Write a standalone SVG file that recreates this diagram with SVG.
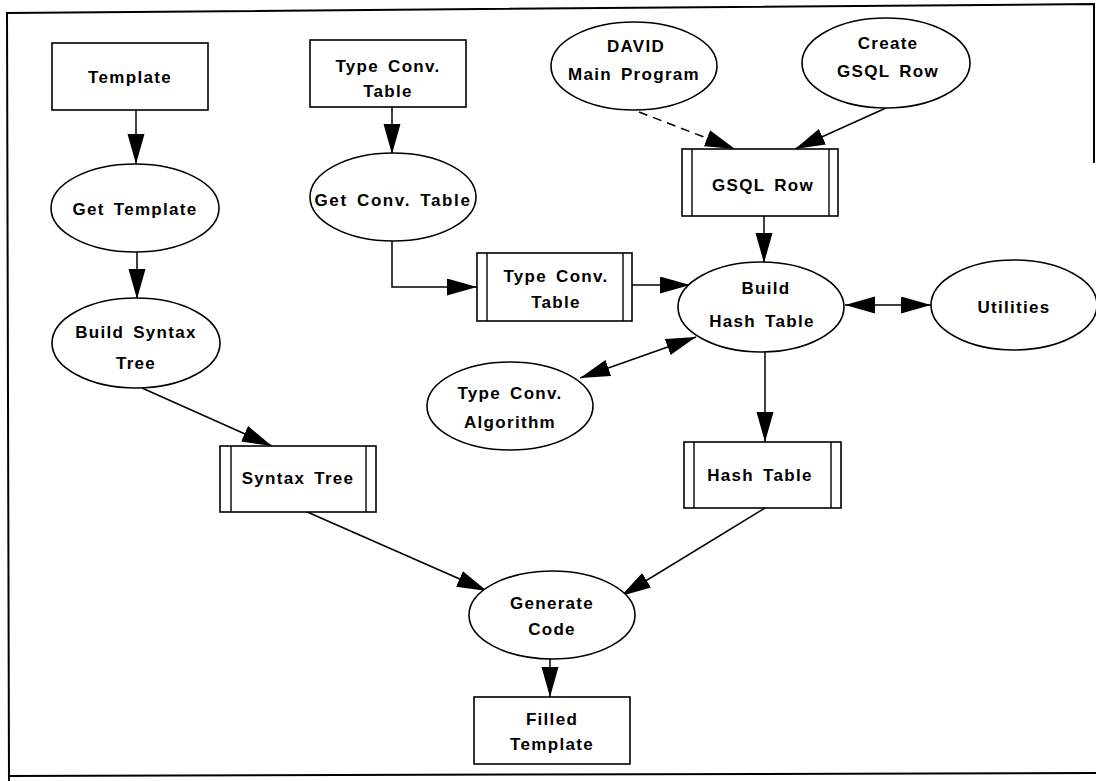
<svg xmlns="http://www.w3.org/2000/svg" width="1096" height="781" viewBox="0 0 1096 781">
<defs>
<marker id="ah" markerUnits="userSpaceOnUse" markerWidth="32" markerHeight="19" refX="30" refY="8.5" orient="auto-start-reverse">
<path d="M0,0 L30,8.5 L0,17 z" fill="#000"/>
</marker>
</defs>
<style>
.sh{fill:#fff;stroke:#000;stroke-width:1.6}
.in{stroke:#000;stroke-width:1.4;fill:none}
.t{font-family:"Liberation Sans",Arial,sans-serif;font-weight:bold;font-size:17px;letter-spacing:1.3px;word-spacing:3px;text-anchor:middle;dominant-baseline:central;fill:#000}
.c{stroke:#000;stroke-width:1.5;fill:none;marker-end:url(#ah)}
.d{marker-start:url(#ah)}
.fr{stroke:#000;stroke-width:2;fill:none}
</style>
<rect width="1096" height="781" fill="#fff"/>
<g id="frame">
<polyline class="fr" points="1094,163 1094,4 7,13 9,781"/>
<line class="fr" x1="9" y1="776" x2="1096" y2="773"/>
</g>
<g id="connectors">
<line class="c" x1="136" y1="110" x2="136" y2="164"/>
<line class="c" x1="137" y1="252" x2="137" y2="299"/>
<line class="c" x1="142" y1="388" x2="272" y2="446"/>
<line class="c" x1="392" y1="107" x2="392" y2="154"/>
<polyline class="c" points="392,241 392,287 477,287"/>
<line class="c" x1="632" y1="285" x2="690" y2="285"/>
<line class="c" x1="639" y1="112" x2="735" y2="149" stroke-dasharray="9,6"/>
<line class="c" x1="886" y1="108" x2="795" y2="149"/>
<line class="c" x1="764" y1="216" x2="764" y2="263"/>
<line class="c d" x1="845" y1="305" x2="931" y2="305"/>
<line class="c d" x1="696" y1="337" x2="580" y2="378"/>
<line class="c" x1="765" y1="352" x2="765" y2="442"/>
<line class="c" x1="305" y1="511" x2="487" y2="591"/>
<line class="c" x1="765" y1="508" x2="621" y2="596"/>
<line class="c" x1="550" y1="659" x2="550" y2="697"/>
</g>
<g id="template">
<rect class="sh" x="52" y="43" width="156" height="67"/>
<text class="t" x="130" y="77">Template</text>
</g>
<g id="get-template">
<ellipse class="sh" cx="135" cy="208" rx="84" ry="44"/>
<text class="t" x="135" y="209">Get Template</text>
</g>
<g id="build-syntax-tree">
<ellipse class="sh" cx="136" cy="343" rx="84" ry="45"/>
<text class="t" x="136" y="332">Build Syntax</text>
<text class="t" x="136" y="363">Tree</text>
</g>
<g id="syntax-tree">
<rect class="sh" x="220" y="446" width="156" height="66"/>
<line class="in" x1="231" y1="446" x2="231" y2="512"/>
<line class="in" x1="366" y1="446" x2="366" y2="512"/>
<text class="t" x="298" y="478">Syntax Tree</text>
</g>
<g id="type-conv-table-src">
<rect class="sh" x="310" y="40" width="156" height="67"/>
<text class="t" x="388" y="66">Type Conv.</text>
<text class="t" x="388" y="91">Table</text>
</g>
<g id="get-conv-table">
<ellipse class="sh" cx="393" cy="197" rx="83" ry="44"/>
<text class="t" x="393" y="200" style="letter-spacing:1.6px">Get Conv. Table</text>
</g>
<g id="type-conv-table-store">
<rect class="sh" x="477" y="253" width="155" height="68"/>
<line class="in" x1="487" y1="253" x2="487" y2="321"/>
<line class="in" x1="623" y1="253" x2="623" y2="321"/>
<text class="t" x="556" y="276">Type Conv.</text>
<text class="t" x="556" y="302">Table</text>
</g>
<g id="david">
<ellipse class="sh" cx="634" cy="66" rx="83" ry="44"/>
<text class="t" x="636" y="46">DAVID</text>
<text class="t" x="634" y="74">Main Program</text>
</g>
<g id="create-gsql-row">
<ellipse class="sh" cx="886" cy="63" rx="84" ry="45"/>
<text class="t" x="888" y="43">Create</text>
<text class="t" x="888" y="71">GSQL Row</text>
</g>
<g id="gsql-row">
<rect class="sh" x="682" y="149" width="156" height="67"/>
<line class="in" x1="692" y1="149" x2="692" y2="216"/>
<line class="in" x1="829" y1="149" x2="829" y2="216"/>
<text class="t" x="763" y="185">GSQL Row</text>
</g>
<g id="build-hash-table">
<ellipse class="sh" cx="761" cy="307" rx="83" ry="45"/>
<text class="t" x="766" y="288">Build</text>
<text class="t" x="762" y="321">Hash Table</text>
</g>
<g id="utilities">
<ellipse class="sh" cx="1014" cy="305" rx="83" ry="45"/>
<text class="t" x="1014" y="307">Utilities</text>
</g>
<g id="type-conv-algorithm">
<ellipse class="sh" cx="510" cy="406" rx="83" ry="44"/>
<text class="t" x="510" y="393">Type Conv.</text>
<text class="t" x="510" y="422">Algorithm</text>
</g>
<g id="hash-table">
<rect class="sh" x="684" y="442" width="157" height="66"/>
<line class="in" x1="694" y1="442" x2="694" y2="508"/>
<line class="in" x1="831" y1="442" x2="831" y2="508"/>
<text class="t" x="760" y="475">Hash Table</text>
</g>
<g id="generate-code">
<ellipse class="sh" cx="552" cy="615" rx="83" ry="44"/>
<text class="t" x="552" y="603">Generate</text>
<text class="t" x="552" y="629">Code</text>
</g>
<g id="filled-template">
<rect class="sh" x="474" y="697" width="156" height="67"/>
<text class="t" x="552" y="719">Filled</text>
<text class="t" x="552" y="744">Template</text>
</g>
</svg>
